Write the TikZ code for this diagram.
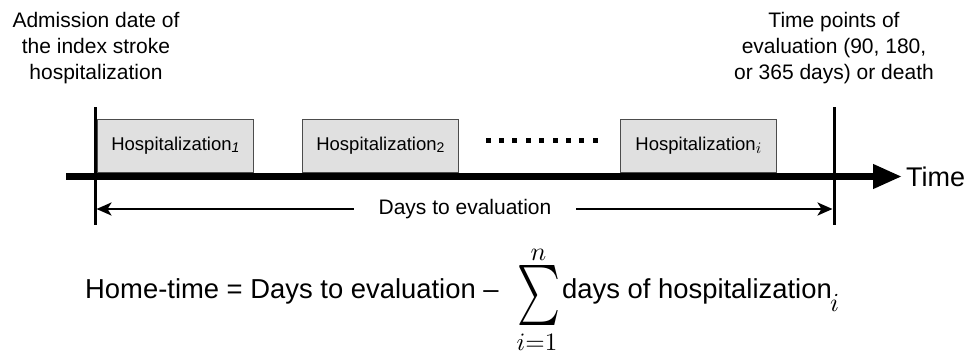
\documentclass[tikz,border=0pt]{standalone}
\usepackage[no-math]{fontspec}
\setmainfont{Liberation Sans}
\usetikzlibrary{arrows.meta}
\tikzset{
  lbl/.style={align=center,font=\fontsize{21}{26}\selectfont,inner sep=0pt},
  hbox/.style={draw=black!70,fill=black!12,line width=0.8pt,minimum width=156pt,minimum height=53pt,inner sep=0pt,font=\fontsize{18.5}{22}\selectfont},
  vline/.style={line width=3pt},
  axis/.style={line width=7pt,-{Triangle[length=29pt,width=23pt]}},
  span/.style={line width=2.6pt,{Stealth[length=15pt,width=13pt,inset=4pt]}-{Stealth[length=15pt,width=13pt,inset=4pt]}},
  ftext/.style={anchor=base west,inner sep=0pt,font=\fontsize{27.4}{32}\selectfont},
  fmath/.style={inner sep=0pt}
}
\begin{document}
\begin{tikzpicture}[x=1pt,y=-1pt]
\useasboundingbox (0,0) rectangle (974,354);
% labels
\node[lbl] (adm) at (96,48) {Admission date of\\the index stroke\\hospitalization};
\node[lbl] (tpe) at (834,48) {Time points of\\evaluation (90, 180,\\or 365 days) or death};
% boxes
\node[hbox,anchor=south west] (h1) at (97,173) {Hospitalization\raisebox{-2pt}{\fontsize{14}{14}\selectfont\itshape 1}};
\node[hbox,anchor=south west] (h2) at (302,173) {Hospitalization\raisebox{-2pt}{\fontsize{14}{14}\selectfont 2}};
\node[hbox,anchor=south west] (hi) at (620,173) {Hospitalization\raisebox{-3pt}{\normalsize\scalebox{1.6}{$i$}}};
% dots
\foreach \k in {0,...,8} \fill (485.5+13.4*\k,143) rectangle ++(5,-5);
% axis
\coordinate (axS) at (66,176.5);
\coordinate (axE) at (902,176.5);
\draw[axis] (axS) -- (axE);
\node[anchor=west,font=\fontsize{27}{30}\selectfont,inner sep=0pt] (time) at (906,177) {Time};
% vertical lines
\coordinate (l1) at (95,107); \coordinate (l2) at (95,225);
\coordinate (r1) at (834,107); \coordinate (r2) at (834,225);
\draw[vline] (l1) -- (l2);
\draw[vline] (r1) -- (r2);
% days arrow
\coordinate (d1) at (96.5,209); \coordinate (d2) at (832.5,209);
\draw[span] (d1) -- (d2);
\node[fill=white,inner xsep=25pt,inner ysep=3pt,font=\fontsize{21}{24}\selectfont] (dte) at (465,209) {Days to evaluation};
% formula
\node[ftext] (f1) at (85,298) {Home-time = Days to evaluation --};
\node[fmath] (sig) at (538.5,295) {\resizebox*{43pt}{60pt}{$\sum$}};
\node[fmath] (up) at (538.5,255) {\scalebox{2.6}{$n$}};
\node[fmath] (lo) at (537,342) {\scalebox{2.5}{$i{=}1$}};
\node[ftext] (f2) at (562,298) {days of hospitalization};
\node[fmath,anchor=north west,yshift=4pt,xshift=-2pt] (sub) at (f2.base east) {\scalebox{2.6}{$i$}};
\end{tikzpicture}
\end{document}
